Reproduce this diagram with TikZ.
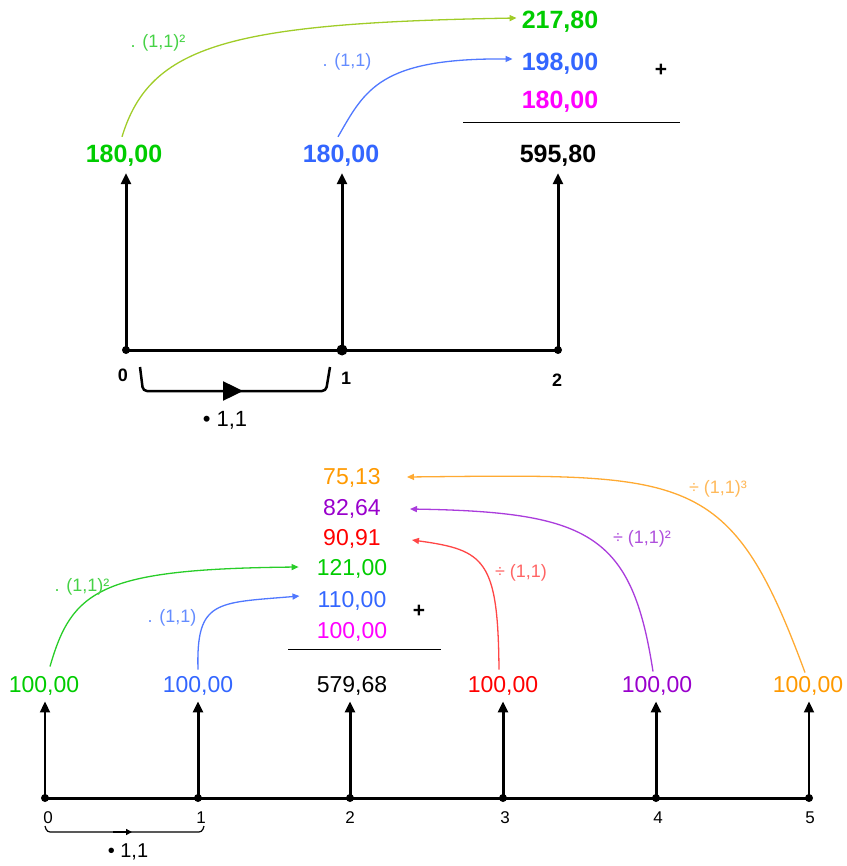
\documentclass[tikz,border=0pt]{standalone}
\usepackage{fontspec}
\setmainfont{Liberation Sans}
\usepackage{tikz}
\usetikzlibrary{arrows.meta,positioning,calc}
\usepackage{xcolor}
\definecolor{cfgreen}{RGB}{0,204,0}
\definecolor{cfblue}{RGB}{51,102,255}
\definecolor{cfmagenta}{RGB}{255,0,255}
\definecolor{cfred}{RGB}{255,0,0}
\definecolor{cfpurple}{RGB}{153,0,204}
\definecolor{cforange}{RGB}{255,153,0}
\definecolor{curvelime}{RGB}{160,204,40}
\definecolor{curvegreen}{RGB}{40,205,40}
\definecolor{curveblue}{RGB}{80,120,255}
\definecolor{curvered}{RGB}{255,70,70}
\definecolor{curvepurple}{RGB}{170,60,220}
\definecolor{curveorange}{RGB}{255,170,50}
\definecolor{lblgreen}{RGB}{70,210,70}
\definecolor{lblblue}{RGB}{100,140,255}
\definecolor{lblred}{RGB}{255,100,100}
\definecolor{lblpurple}{RGB}{175,80,220}
\definecolor{lblorange}{RGB}{255,185,90}

\begin{document}
\begin{tikzpicture}[x=1pt, y=-1pt,
    bignum/.style={font=\fontsize{25}{28}\selectfont\bfseries, inner sep=0pt,
        text height=18pt, text depth=0pt},
    smallnum/.style={font=\fontsize{23}{26}\selectfont, inner sep=0pt,
        text height=16.5pt, text depth=0pt},
    factor/.style={font=\fontsize{18}{20}\selectfont, inner sep=0pt},
    ticklbl/.style={font=\fontsize{18}{20}\selectfont\bfseries, inner sep=0pt},
    ticklbls/.style={font=\fontsize{17}{19}\selectfont, inner sep=0pt},
    tdot/.style={circle, fill=black, inner sep=0pt, minimum size=8pt},
    cash/.style={-{Triangle[length=11pt,width=10pt]}, line width=3pt},
    flow/.style={-{Triangle[length=7pt,width=6pt]}, line width=1.3pt},
    axisline/.style={line width=3pt}
]
    \useasboundingbox (0,0) rectangle (846,866);

    % --- top: value at time 2 ---
    \node[tdot] (t0) at (126,350) {};
    \node[tdot, minimum size=11pt] (t1) at (342,350) {};
    \node[tdot] (t2) at (558,350) {};
    \draw[axisline] (t0.center) -- (t2.center);

    \node[bignum, cfgreen] (p0) at (124,154) {180,00};
    \node[bignum, cfblue] (p1) at (341,154) {180,00};
    \node[bignum] (psum) at (558,154) {595,80};

    \node[bignum, cfgreen] (f2) at (560,20) {217,80};
    \node[bignum, cfblue] (f1) at (560,62) {198,00};
    \node[bignum, cfmagenta] (f0) at (560,100) {180,00};
    \node[font=\fontsize{21}{22}\selectfont\bfseries] (plusA) at (661,70) {+};
    \draw[line width=1pt] (463,123) -- (680,123);

    \draw[cash, shorten >=10pt] (t0.center) -- (t0.center |- p0.south);
    \draw[cash, shorten >=10pt] (t1.center) -- (t1.center |- p1.south);
    \draw[cash, shorten >=10pt] (t2.center) -- (t2.center |- psum.south);

    \draw[flow, curvelime] ($(p0.north)+(-2,-8)$) .. controls +(28,-92) and +(-287,5) .. ($(f2.west)+(-5,-2)$);
    \draw[flow, curveblue] ($(p1.north)+(-3,-8)$) .. controls +(27,-47) and +(-133,-1) .. ($(f1.west)+(-9,-3)$);
    \node[factor, lblgreen] (m2) at (158,43) {. (1,1)²};
    \node[factor, lblblue] (m1) at (347,62) {. (1,1)};

    \node[ticklbl] (k0) at (123,375) {0};
    \node[ticklbl] (k1) at (346,378) {1};
    \node[ticklbl] (k2) at (557,380) {2};

    \coordinate (ba) at (140,367);
    \coordinate (bb) at (330,367);
    \draw[line width=2.5pt, rounded corners=4pt] (ba) -- (143,391) -- (326,391) -- (bb);
    \draw[-{Triangle[length=20pt,width=19pt]}, line width=2.5pt] (200,391) -- (243,391);
    \node[font=\fontsize{22}{24}\selectfont] (rateA) at (225,420) {• 1,1};

    % --- bottom: value at time 2 ---
    \foreach \i/\x in {0/45,1/198,2/350,3/503,4/656,5/809}
        \node[tdot] (u\i) at (\x,798) {};
    \draw[axisline] (u0.center) -- (u5.center);

    \node[smallnum, cfgreen] (q0) at (44,684) {100,00};
    \node[smallnum, cfblue] (q1) at (198,684) {100,00};
    \node[smallnum] (q2) at (352,684) {579,68};
    \node[smallnum, cfred] (q3) at (503,684) {100,00};
    \node[smallnum, cfpurple] (q4) at (657,684) {100,00};
    \node[smallnum, cforange] (q5) at (808,684) {100,00};

    \node[smallnum, cforange] (v3) at (352,476) {75,13};
    \node[smallnum, cfpurple] (v2) at (352,507) {82,64};
    \node[smallnum, cfred] (v1) at (352,537) {90,91};
    \node[smallnum, cfgreen] (w2) at (352,567) {121,00};
    \node[smallnum, cfblue] (w1) at (352,599) {110,00};
    \node[smallnum, cfmagenta] (w0) at (352,630) {100,00};
    \node[font=\fontsize{21}{22}\selectfont\bfseries] (plusB) at (419,611) {+};
    \draw[line width=1pt] (288,649) -- (441,649);

    \draw[cash, line width=2pt, shorten >=9pt] (u0.center) -- (u0.center |- q0.south);
    \foreach \i in {1,2,3,4}
        \draw[cash, shorten >=9pt] (u\i.center) -- (u\i.center |- q\i.south);
    \draw[cash, line width=2pt, shorten >=9pt] (u5.center) -- (u5.center |- q5.south);

    \draw[flow, curvegreen] ($(q0.north)+(6,-9)$) .. controls +(22,-77) and +(-198,2) .. ($(w2.west)+(-18,0)$);
    \draw[flow, curveblue] ($(q1.north)+(0,-6)$) .. controls +(-2,-70) and +(-83,7) .. ($(w1.west)+(-18,-3)$);
    \draw[flow, curvered] ($(q3.north)+(-4,-6)$) .. controls +(-1,-110) and +(73,10) .. ($(v1.east)+(31,3)$);
    \draw[flow, curvepurple] ($(q4.north)+(-4,-4)$) .. controls +(-21,-137) and +(180,3) .. ($(v2.east)+(29,2)$);
    \draw[flow, curveorange] ($(q5.north)+(-3,-3)$) .. controls +(-75,-203) and +(283,-3) .. ($(v3.east)+(26,1)$);

    \node[factor, lblgreen] (n2) at (82,587) {. (1,1)²};
    \node[factor, lblblue] (n1) at (172,618) {. (1,1)};
    \node[factor, lblred] (d1) at (521,573) {÷ (1,1)};
    \node[factor, lblpurple] (d2) at (642,539) {÷ (1,1)²};
    \node[factor, lblorange] (d3) at (718,489) {÷ (1,1)³};

    \foreach \i/\x in {0/48,1/201,2/350,3/505,4/658,5/810}
        \node[ticklbls] (h\i) at (\x,818) {\i};

    \coordinate (bc) at (45,826);
    \coordinate (bd) at (204,826);
    \draw[line width=1.2pt, rounded corners=3pt] (bc) -- (47,832) -- (202,832) -- (bd);
    \draw[-{Triangle[length=6pt,width=6pt]}, line width=2pt] (113,832) -- (132,832);
    \node[font=\fontsize{20}{22}\selectfont] (rateB) at (128,852) {• 1,1};
\end{tikzpicture}
\end{document}
